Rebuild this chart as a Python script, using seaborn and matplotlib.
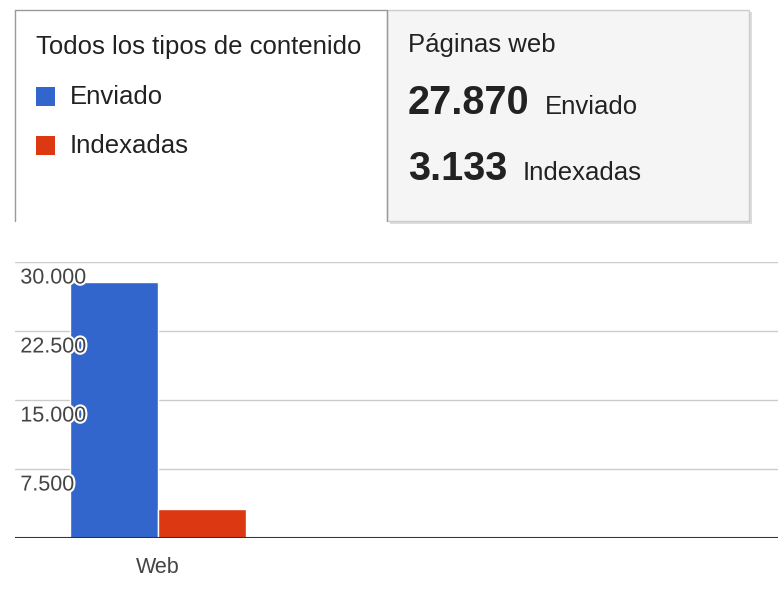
import matplotlib
matplotlib.use("Agg")
import matplotlib.pyplot as plt
import matplotlib.patheffects as pe
from matplotlib.patches import Rectangle
import seaborn as sns
import pandas as pd

categories = ["Web", "Web"]
series = ["Enviado", "Indexadas"]
values = [27870, 3133]
colors = {"Enviado": "#3366cc", "Indexadas": "#dc3912"}
yticks = [7500, 15000, 22500, 30000]
ytick_labels = ["7.500", "15.000", "22.500", "30.000"]

sns.set_style("white")
plt.rcParams["font.family"] = ["Liberation Sans", "DejaVu Sans"]

W, H = 778, 602
fig = plt.figure(figsize=(W / 100, H / 100), dpi=100)

def fx(px): return px / W
def fy(py): return 1 - py / H

# --- top panels ---
fig.patches.append(Rectangle((fx(390), fy(224)), fx(752) - fx(390), fy(12) - fy(224),
                             transform=fig.transFigure, facecolor="#dddddd", edgecolor="none", zorder=0))
fig.patches.append(Rectangle((fx(387), fy(221)), fx(749) - fx(387), fy(10) - fy(221),
                             transform=fig.transFigure, facecolor="#f5f5f5", edgecolor="#cccccc", lw=1, zorder=1))
fig.lines.append(plt.Line2D([fx(15), fx(15)], [fy(10), fy(221)], transform=fig.transFigure, color="#999999", lw=1))
fig.lines.append(plt.Line2D([fx(15), fx(387)], [fy(10), fy(10)], transform=fig.transFigure, color="#999999", lw=1))
fig.lines.append(plt.Line2D([fx(387), fx(387)], [fy(10), fy(221)], transform=fig.transFigure, color="#999999", lw=1))

fig.text(fx(36), fy(47), "Todos los tipos de contenido", fontsize=18.5, va="center", color="#222222")
for i, s in enumerate(series):
    yy = 97 + i * 49
    fig.patches.append(Rectangle((fx(36), fy(yy + 9)), fx(19), fy(0) - fy(19),
                                 transform=fig.transFigure, facecolor=colors[s], edgecolor="none"))
    fig.text(fx(70), fy(yy), s, fontsize=18.5, va="center", color="#222222")

fig.text(fx(408), fy(45), "Páginas web", fontsize=18.5, va="center", color="#222222", zorder=3)
fig.text(fx(408), fy(103), "27.870", fontsize=28.5, fontweight="bold", va="center", color="#222222", zorder=3)
fig.text(fx(545), fy(107), "Enviado", fontsize=18.5, va="center", color="#222222", zorder=3)
fig.text(fx(408), fy(169), "3.133", fontsize=28.5, fontweight="bold", va="center", color="#222222", zorder=3)
fig.text(fx(523), fy(173), "Indexadas", fontsize=18.5, va="center", color="#222222", zorder=3)

# --- bar chart ---
ax = fig.add_axes([fx(15), fy(538), 1 - fx(15), fy(262) - fy(538)])
df = pd.DataFrame({"cat": categories, "serie": series, "val": values})
sns.barplot(data=df, x="cat", y="val", hue="serie", palette=colors, width=0.8,
            saturation=1, legend=False, ax=ax, zorder=2)
ax.set_ylim(0, 30000)
ax.set_xlim(-0.65, 2.82)
for t in yticks:
    ax.axhline(t, color="#cccccc", lw=1, zorder=1)
ax.axhline(0, color="#333333", lw=1.5, zorder=3)
ax.set_yticks([])
ax.set_xticks([0])
ax.set_xticklabels(["Web"], fontsize=15.5, color="#444444")
ax.tick_params(axis="x", length=0, pad=14)
shift = 16 * 30000 / 276  # labels sit just below their gridline
for t, lab in zip(yticks, ytick_labels):
    ax.text(0.007, t - shift, lab, transform=ax.get_yaxis_transform(), fontsize=15.5, color="#444444",
            va="center", ha="left", zorder=4,
            path_effects=[pe.withStroke(linewidth=3, foreground="white")])
ax.set_xlabel("")
ax.set_ylabel("")
for sp in ax.spines.values():
    sp.set_visible(False)

fig.savefig("out.png", dpi=100)
